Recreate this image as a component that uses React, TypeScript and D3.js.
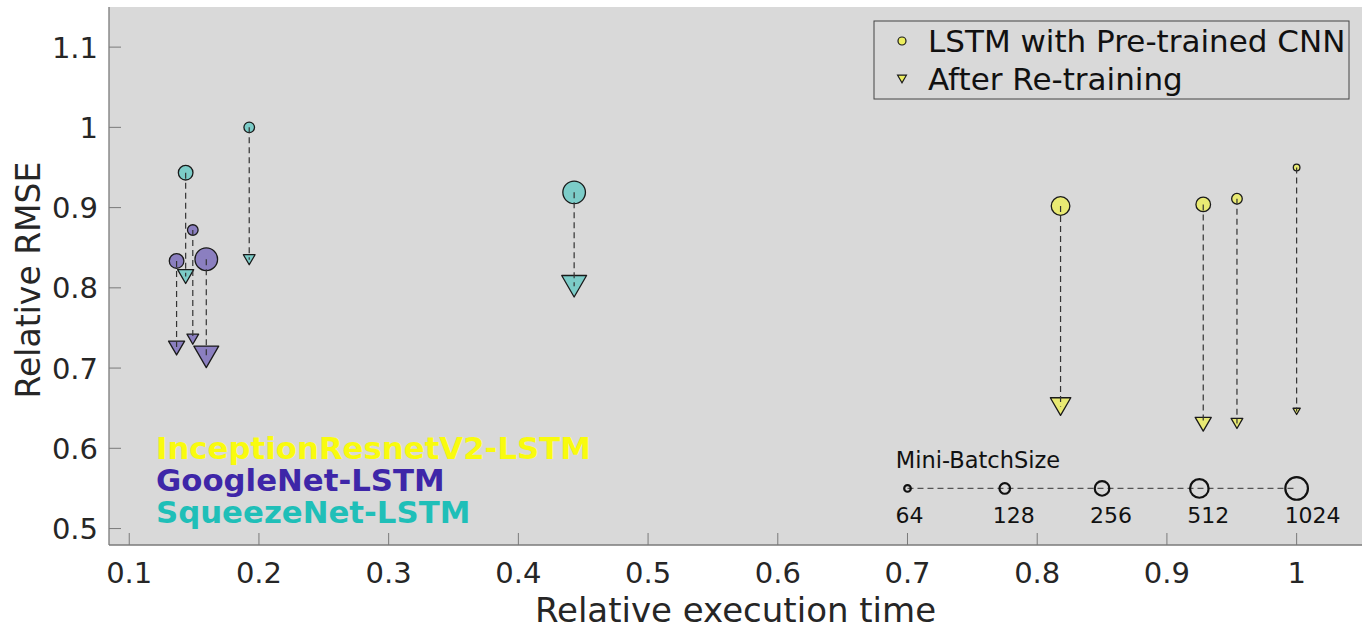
import React from "react";
import { scaleLinear } from "d3";

// group names and their label colours (parula)
const groups = ["InceptionResnetV2-LSTM", "GoogleNet-LSTM", "SqueezeNet-LSTM"];
const groupColors = ["#f9fb0e", "#3e26a8", "#1fbfb8"];

// one entry per network run
const pointGroup = [2, 2, 1, 1, 1, 2, 0, 0, 0, 0];
const pointTime = [0.1925, 0.1435, 0.149, 0.1365, 0.1594, 0.443, 0.818, 0.928, 0.954, 1.0];
const rmseBefore = [1.0, 0.9435, 0.872, 0.8335, 0.8356, 0.919, 0.902, 0.904, 0.911, 0.95];
const rmseAfter = [0.835, 0.814, 0.736, 0.725, 0.714, 0.802, 0.652, 0.63, 0.631, 0.646];
const pointBatch = [128, 256, 128, 256, 1024, 1024, 512, 256, 128, 64];

// mini-batch size legend
const batchSizes = [64, 128, 256, 512, 1024];
const batchLegendX = [0.7, 0.775, 0.85, 0.925, 1.0];
const batchLegendY = 0.55;

const xTicks = [0.1, 0.2, 0.3, 0.4, 0.5, 0.6, 0.7, 0.8, 0.9, 1];
const yTicks = [0.5, 0.6, 0.7, 0.8, 0.9, 1, 1.1];

const width = 1371;
const height = 629;
const margin = { top: 7, right: 9, bottom: 84, left: 109 };
const innerWidth = width - margin.left - margin.right;
const innerHeight = height - margin.top - margin.bottom;

const font = "'DejaVu Sans', sans-serif";
const bg = "#d9d9d9";
const axisColor = "#7a7a7a";
const textColor = "#262626";

const fmt = (v: number) => String(+v.toFixed(2));

const triPath = (cx: number, cy: number, r: number) => {
  const w = 2.2 * r;
  const h = 1.9 * r;
  return `M${cx - w / 2},${cy - h / 2}L${cx + w / 2},${cy - h / 2}L${cx},${cy + h / 2}Z`;
};

const App = () => {
  const xScale = scaleLinear().domain([0.0844, 1.0504]).range([0, innerWidth]);
  const yScale = scaleLinear().domain([0.4795, 1.15]).range([innerHeight, 0]);
  // marker radius grows with log2 of batch size
  const rScale = scaleLinear().domain([6, 10]).range([3.3, 11.3]);
  const radius = (b: number) => rScale(Math.log2(b));

  return (
    <svg
      width={width}
      height={height}
      style={{ position: "absolute", left: 0, top: 0, background: "#fff" }}
      fontFamily={font}
    >
      <g transform={`translate(${margin.left},${margin.top})`}>
        <rect width={innerWidth} height={innerHeight} fill={bg} />

        {/* axes */}
        <line x1={0} x2={0} y1={0} y2={innerHeight} stroke={axisColor} strokeWidth={1.3} />
        <line x1={0} x2={innerWidth} y1={innerHeight} y2={innerHeight} stroke={axisColor} strokeWidth={1.3} />
        {xTicks.map((t) => (
          <g key={t} transform={`translate(${xScale(t)},0)`}>
            <line y1={innerHeight} y2={innerHeight - 12} stroke={axisColor} />
            <text y={innerHeight + 38} textAnchor="middle" fontSize={29} fill={textColor}>
              {fmt(t)}
            </text>
          </g>
        ))}
        {yTicks.map((t) => (
          <g key={t} transform={`translate(0,${yScale(t)})`}>
            <line x1={0} x2={12} stroke={axisColor} />
            <text x={-11} dy="0.36em" textAnchor="end" fontSize={29} fill={textColor}>
              {fmt(t)}
            </text>
          </g>
        ))}

        {/* markers */}
        {pointTime.map((t, i) => {
          const c = groupColors[pointGroup[i]];
          const r = radius(pointBatch[i]);
          const x = xScale(t);
          return (
            <g key={i}>
              <circle cx={x} cy={yScale(rmseBefore[i])} r={r} fill={c} fillOpacity={0.5} stroke="#1a1a1a" strokeWidth={1.3} />
              <path d={triPath(x, yScale(rmseAfter[i]), r)} fill={c} fillOpacity={0.5} stroke="#1a1a1a" strokeWidth={1.3} strokeLinejoin="round" />
            </g>
          );
        })}
        {pointTime.map((t, i) => (
          <line
            key={i}
            x1={xScale(t)}
            x2={xScale(t)}
            y1={yScale(rmseBefore[i])}
            y2={yScale(rmseAfter[i])}
            stroke="#333"
            strokeWidth={1.2}
            strokeDasharray="6,4"
          />
        ))}

        {/* group labels */}
        {groups.map((g, i) => (
          <text
            key={g}
            x={xScale(0.1206)}
            y={yScale(0.587) + i * 32}
            fontSize={30.8}
            fontWeight="bold"
            fill={groupColors[i]}
          >
            {g}
          </text>
        ))}

        {/* mini-batch size legend */}
        <text x={xScale(0.691)} y={yScale(0.5757)} fontSize={22.5} fill="#111">
          Mini-BatchSize
        </text>
        <line
          x1={xScale(batchLegendX[0])}
          x2={xScale(batchLegendX[batchLegendX.length - 1])}
          y1={yScale(batchLegendY)}
          y2={yScale(batchLegendY)}
          stroke="#555"
          strokeWidth={1.2}
          strokeDasharray="6,4"
        />
        {batchSizes.map((b, i) => (
          <g key={b}>
            <circle cx={xScale(batchLegendX[i])} cy={yScale(batchLegendY)} r={radius(b)} fill="none" stroke="#111" strokeWidth={2.2} />
            <text x={xScale(batchLegendX[i]) - 12} y={yScale(0.507)} fontSize={22} fill="#111">
              {b}
            </text>
          </g>
        ))}

        {/* marker legend */}
        <g transform={`translate(${874 - margin.left},${21 - margin.top})`}>
          <rect width={475} height={78} fill={bg} stroke="#444" strokeWidth={1} />
          <circle cx={28} cy={20} r={4} fill={groupColors[0]} fillOpacity={0.6} stroke="#1a1a1a" strokeWidth={1.2} />
          <path d={triPath(28, 58, 4)} fill={groupColors[0]} fillOpacity={0.6} stroke="#1a1a1a" strokeWidth={1.2} />
          <text x={54} y={31} fontSize={31} fill="#111">LSTM with Pre-trained CNN</text>
          <text x={54} y={69} fontSize={31} fill="#111">After Re-training</text>
        </g>
      </g>

      <text x={margin.left + innerWidth / 2} y={622} textAnchor="middle" fontSize={34} fill={textColor}>
        Relative execution time
      </text>
      <text transform={`translate(40,${margin.top + innerHeight / 2 + 4}) rotate(-90)`} textAnchor="middle" fontSize={33} fill={textColor}>
        Relative RMSE
      </text>
    </svg>
  );
};

export default App;
